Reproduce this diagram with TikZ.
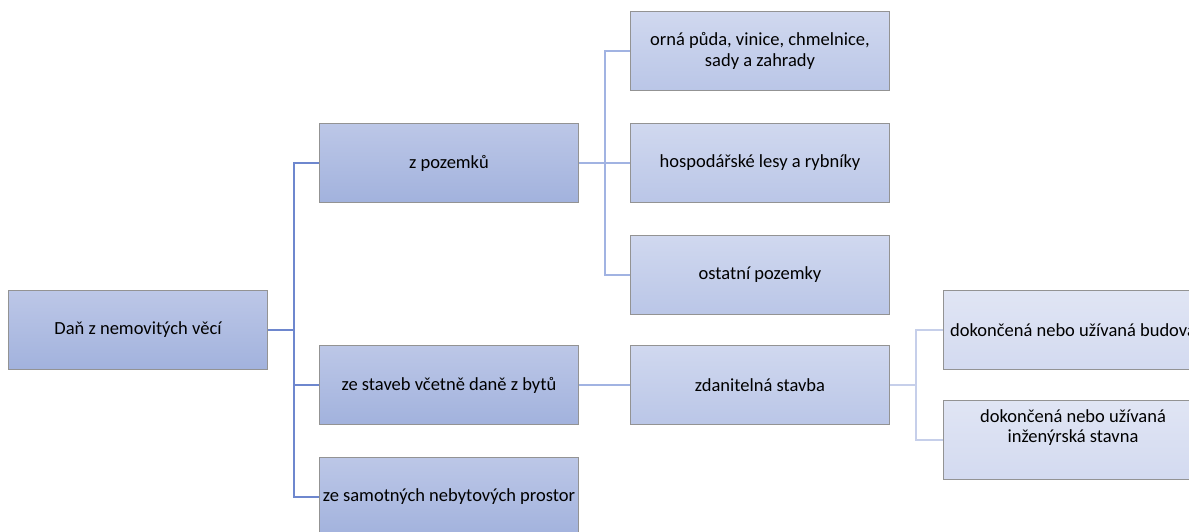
\documentclass[tikz,border=0pt]{standalone}
\usepackage{fontspec}
\setmainfont{Carlito}
\usepackage{xcolor}
\usetikzlibrary{positioning, calc}

\definecolor{rootTop}{HTML}{BCC7E7}
\definecolor{rootBot}{HTML}{A2B2DD}
\definecolor{midTop}{HTML}{D0D8EF}
\definecolor{midBot}{HTML}{BAC6E7}
\definecolor{leafTop}{HTML}{E0E5F4}
\definecolor{leafBot}{HTML}{D3DAF0}
\definecolor{lineOne}{HTML}{6E87CE}
\definecolor{lineTwo}{HTML}{A1B3E2}
\definecolor{lineThree}{HTML}{C6CFEA}

\begin{document}
\begin{tikzpicture}[
    x=1pt, y=-1pt,
    box/.style={rectangle, draw=gray!85, line width=1pt, minimum width=259pt, minimum height=79pt, font=\fontsize{18.5}{21}\selectfont, align=center, inner sep=0pt},
    rootbox/.style={box, top color=rootTop, bottom color=rootBot},
    midbox/.style={box, top color=midTop, bottom color=midBot},
    leafbox/.style={box, top color=leafTop, bottom color=leafBot},
    linkone/.style={draw=lineOne, line width=2pt},
    linktwo/.style={draw=lineTwo, line width=2pt},
    linkthree/.style={draw=lineThree, line width=2pt}
]
\useasboundingbox (0,0) rectangle (1189,531);
\clip (0,0) rectangle (1189,531);

% Root
\node[rootbox] (dan) at (138, 330) {Daň z nemovitých věcí};

% First level
\node[rootbox] (pozemky) at (449, 163) {z pozemků};
\node[rootbox] (stavby) at (449, 385) {ze staveb včetně daně z bytů};
\node[rootbox] (prostory) at (449, 497) {ze samotných nebytových prostor};

% Second level
\node[midbox] (orna) at (760, 51) {orná půda, vinice, chmelnice,\\sady a zahrady};
\node[midbox] (lesy) at (760, 163) {hospodářské lesy a rybníky};
\node[midbox] (ostatni) at (760, 275) {ostatní pozemky};
\node[midbox] (zdanitelna) at (760, 385) {zdanitelná stavba};

% Third level
\node[leafbox] (budova) at (1073, 330) {dokončená nebo užívaná budova};
\node[leafbox] (inzenyrska) at (1073, 440) {};
\node[font=\fontsize{18.5}{20}\selectfont, align=center] (inztext) at (1073, 428) {dokončená nebo užívaná\\inženýrská stavna};

% Connectors
\draw[linkone] (dan.east) -- ++(26,0) coordinate (trunk) |- (pozemky.west);
\draw[linkone] (trunk) |- (stavby.west);
\draw[linkone] (trunk) |- (prostory.west);

\draw[linktwo] (pozemky.east) -- ++(26,0) coordinate (branch) |- (orna.west);
\draw[linktwo] (branch) |- (lesy.west);
\draw[linktwo] (branch) |- (ostatni.west);
\draw[linktwo] (stavby.east) -- (zdanitelna.west);

\draw[linkthree] (zdanitelna.east) -- ++(26,0) coordinate (twig) |- (budova.west);
\draw[linkthree] (twig) |- (inzenyrska.west);

\end{tikzpicture}
\end{document}
